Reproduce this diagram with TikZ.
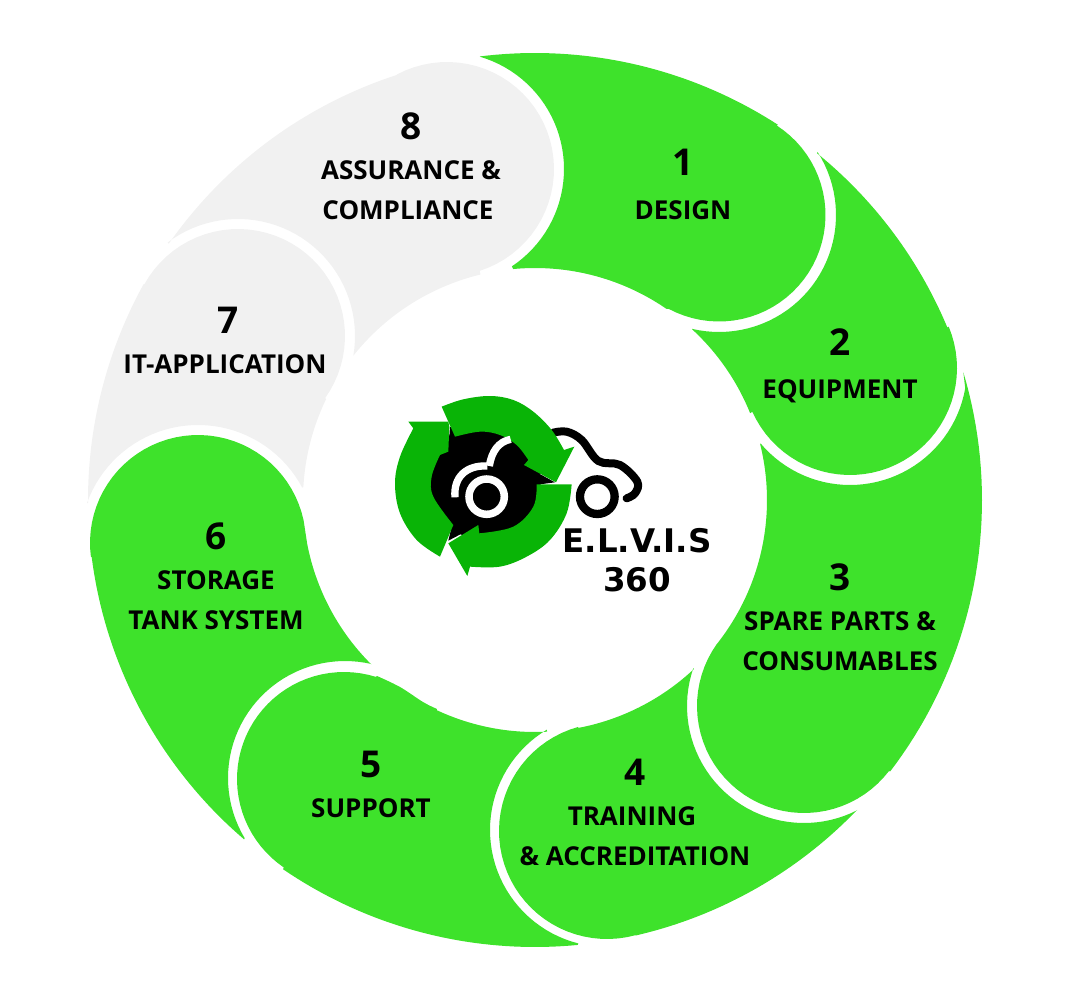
\documentclass[tikz,border=0pt]{standalone}
\usepackage{fontspec}
\setmainfont{Open Sans}
\newfontfamily\logofont{DejaVu Sans}
\definecolor{segGreen}{RGB}{62,226,43}
\definecolor{segGrey}{RGB}{241,241,241}
\definecolor{logoGreen}{RGB}{9,180,6}
\def\ox{535+447*cos(\x)}
\def\oy{500+447*sin(\x)}
\def\ix{535+232*cos(\x)}
\def\iy{500+232*sin(\x)}
\tikzset{
  ringarc/.style={samples=40},
  curve/.style={smooth,tension=.6},
  seggreen/.style={fill=segGreen},
  seggrey/.style={fill=segGrey},
  numlabel/.style={font=\fontsize{37}{40}\selectfont\bfseries,inner sep=0pt},
  seglabel/.style={font=\fontsize{26}{40}\selectfont\bfseries,inner sep=0pt,align=center},
  logoarrow/.style={fill=logoGreen},
}
\begin{document}
\begin{tikzpicture}[x=1pt,y=-1pt]
\useasboundingbox (0,0) rectangle (1081,1006);
% segment 1
\fill[seggreen] plot[ringarc,domain=-97.1:-57.1] ({\ox},{\oy})
 -- plot[ringarc,domain=-57.1:118] ({719+106.5*cos(\x)},{215+106.5*sin(\x)})
 -- plot[ringarc,domain=-55.5:-95.4] ({\ix},{\iy})
 -- plot[ringarc,domain=56.3:-73.6] ({447+117*cos(\x)},{169+117*sin(\x)}) -- cycle;
% segment 2
\fill[seggreen] plot[ringarc,domain=-50.9:-22.7] ({\ox},{\oy})
 -- plot[ringarc,domain=-22.7:155.8] ({850+107*cos(\x)},{368+107*sin(\x)})
 -- plot[ringarc,domain=-22:-47.4] ({\ix},{\iy})
 -- plot[ringarc,domain=103.3:-32.5] ({719+117*cos(\x)},{215+117*sin(\x)}) -- cycle;
% segment 3
\fill[seggreen] plot[ringarc,domain=-16.6:37.4] ({\ox},{\oy})
 -- plot[ringarc,domain=37.4:215.3] ({804+107*cos(\x)},{706+107*sin(\x)})
 -- plot[ringarc,domain=38.5:-14] ({\ix},{\iy})
 -- plot[ringarc,domain=139.8:10] ({850+117*cos(\x)},{368+117*sin(\x)}) -- cycle;
% segment 4
\fill[seggreen] plot[ringarc,domain=43.9:77] ({\ox},{\oy})
 -- plot[ringarc,domain=74.7:254.4] ({607+108*cos(\x)},{831+108*sin(\x)})
 -- plot[ringarc,domain=79.2:46.8] ({\ix},{\iy})
 -- plot[ringarc,domain=198.9:63] ({804+117*cos(\x)},{706+117*sin(\x)}) -- cycle;
% segment 5
\fill[seggreen] plot[ringarc,domain=84.5:124.3] ({\ox},{\oy})
 -- plot[ringarc,domain=124.3:287.3] ({344+107*cos(\x)},{779+107*sin(\x)})
 -- plot[curve] coordinates {(377,676)(400,687)(423,702)(437,709)}
 -- plot[ringarc,domain=115:87] ({\ix},{\iy})
 -- plot[ringarc,domain=239:104.2] ({607+117*cos(\x)},{830+117*sin(\x)}) -- cycle;
% segment 6
\fill[seggreen] plot[ringarc,domain=130.6:172.7] ({\ox},{\oy})
 -- plot[ringarc,domain=172.7:347.9] ({198+108*cos(\x)},{543+108*sin(\x)})
 -- plot[ringarc,domain=169:135] ({\ix},{\iy})
 -- plot[ringarc,domain=283.1:149] ({345+117*cos(\x)},{778+117*sin(\x)}) -- cycle;
% segment 7
\fill[seggrey] plot[ringarc,domain=179.6:208.9] ({\ox},{\oy})
 -- plot[ringarc,domain=208.9:395.4] ({238+107*cos(\x)},{336+107*sin(\x)})
 -- plot[ringarc,domain=205.8:183.2] ({\ix},{\iy})
 -- plot[ringarc,domain=332:199.8] ({198+118*cos(\x)},{543+118*sin(\x)}) -- cycle;
% segment 8
\fill[seggrey] plot[ringarc,domain=215:252] ({\ox},{\oy})
 -- plot[ringarc,domain=242:432.2] ({447+107*cos(\x)},{169+107*sin(\x)})
 -- plot[ringarc,domain=256.4:218.5] ({\ix},{\iy})
 -- plot[ringarc,domain=9.4:-127] ({238+117*cos(\x)},{336+117*sin(\x)}) -- cycle;
% segment texts
\node[numlabel] (n1) at (683,162) {1};
\node[seglabel] (t1) at (683,210) {DESIGN};
\node[numlabel] (n2) at (840,342) {2};
\node[seglabel] (t2) at (840,391) {EQUIPMENT};
\node[numlabel] (n3) at (840,577) {3};
\node[seglabel] (t3) at (840,641) {SPARE PARTS \&\\CONSUMABLES};
\node[numlabel] (n4) at (635,772) {4};
\node[seglabel] (t4) at (635,836) {TRAINING\hspace*{6pt}\\\& ACCREDITATION};
\node[numlabel] (n5) at (371,764) {5};
\node[seglabel] (t5) at (371,808) {SUPPORT};
\node[numlabel] (n6) at (216,536) {6};
\node[seglabel] (t6) at (216,600) {STORAGE\\TANK SYSTEM};
\node[numlabel] (n7) at (228,320) {7};
\node[seglabel] (t7) at (225,364) {IT-APPLICATION};
\node[numlabel] (n8) at (411,126) {8};
\node[seglabel] (t8) at (411,190) {ASSURANCE \&\\COMPLIANCE\hspace*{6pt}};
% logo
\begin{scope}[shift={(380,380)},x=0.3333pt,y=-0.3333pt]
\draw[black,line width=8pt,line cap=round,line join=round]
  plot[curve] coordinates {(520,158)(560,155)(605,180)(655,243)(720,255)(772,305)(765,340)(740,355)};
\draw[black,line width=8.3pt] (652,350) circle[radius=52];
% black hub
\fill[black] (310,305) circle[radius=172];
\fill[black] (205,215)--(210,140)--(260,165)--cycle;
\fill[black] (430,255)--(525,307)--(465,315)--cycle;
\fill[black] (205,482)--(295,435)--(220,420)--cycle;
% green arrows
\fill[logoarrow] plot[curve] coordinates {(185,80)(250,58)(330,48)(400,60)(460,95)(515,150)(552,210)} -- (583,200) -- (528,307) -- (432,255)
  -- plot[curve] coordinates {(445,240)(410,195)(360,165)(300,155)(225,170)} -- cycle;
\fill[logoarrow] (85,125)--(205,125)--(208,140)--(205,215)
  -- plot[curve] coordinates {(180,225)(155,290)(160,350)(220,435)}
  -- plot[curve] coordinates {(180,530)(110,480)(60,400)(45,310)(60,230)(100,145)} -- cycle;
\fill[logoarrow] plot[curve] coordinates {(575,313)(560,400)(510,480)(440,530)(360,560)(270,560)} -- (262,588) -- (205,490) -- (295,435) -- (298,460)
  -- plot[curve] coordinates {(298,460)(400,440)(460,380)(470,313)} -- cycle;
% white car
\draw[white,line width=7.3pt] (225,352) .. controls (220,290) and (260,255) .. (322,258);
\draw[white,line width=7.3pt] (328,258) .. controls (335,215) and (355,185) .. (392,178);
\draw[white,line width=7.5pt] (320,350) circle[radius=53];
\end{scope}
\node[font=\logofont\bfseries\fontsize{32.5}{39}\selectfont,inner sep=0pt,align=center] (logotext) at (637,560) {E.L.V.I.S\\360};
\end{tikzpicture}
\end{document}
